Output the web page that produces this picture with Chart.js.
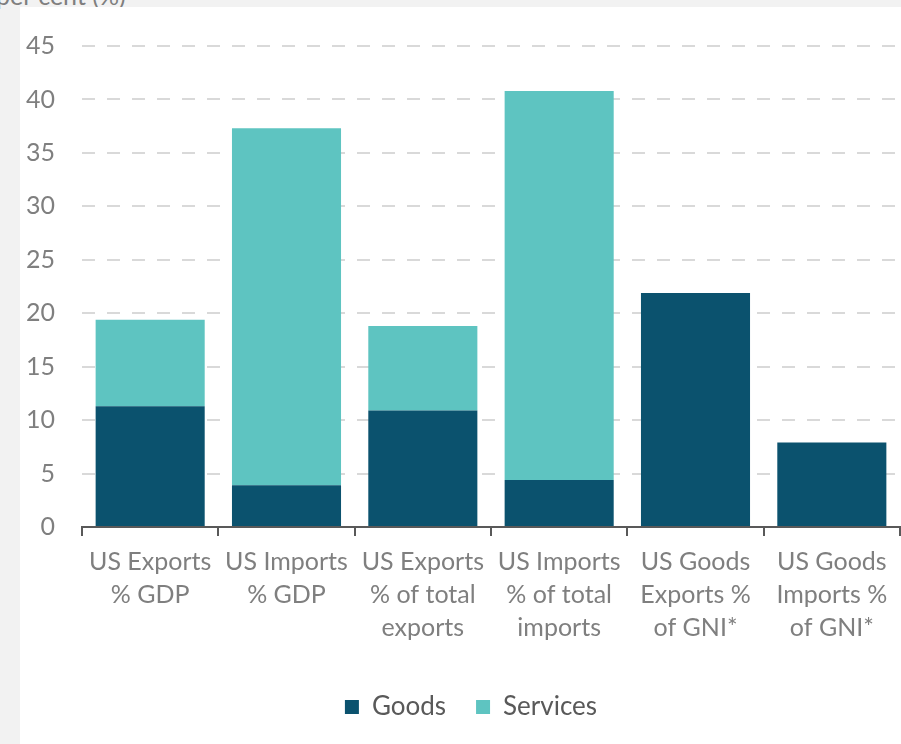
<!DOCTYPE html>
<html>
<head>
<meta charset="utf-8">
<script src="https://cdn.jsdelivr.net/npm/chart.js@4"></script>
<style>
    body { margin: 0; background: #f2f2f2; width: 901px; height: 744px; overflow: hidden; position: relative; font-family: Lato, sans-serif; }
    .unit { position: absolute; left: -4px; top: -20px; font-size: 25px; color: #7f7f7f; }
    .panel { position: absolute; left: 20px; top: 7px; width: 881px; height: 737px; background: #fff; }
</style>
</head>
<body>
<div class="unit">per cent (%)</div>
<div class="panel"><canvas id="chart1" width="881" height="737"></canvas></div>
<script>
// categories and values (per cent)
let categories = [
    ['US Exports', '% GDP'],
    ['US Imports', '% GDP'],
    ['US Exports', '% of total', 'exports'],
    ['US Imports', '% of total', 'imports'],
    ['US Goods', 'Exports %', 'of GNI*'],
    ['US Goods', 'Imports %', 'of GNI*']
];
let goods = [11.3, 3.9, 10.9, 4.4, 21.9, 7.9];
let services = [8.1, 33.4, 7.9, 36.4, 0, 0];
let yTicks = [0, 5, 10, 15, 20, 25, 30, 35, 40, 45];

let barColor = ['#0b526e', '#5ec4c1'];

// legend sits a bit right of centre in the original
const legendShift = {
    id: 'legendShift',
    afterLayout(chart) {
        chart.legend.left += 11;
        chart.legend.right += 11;
    }
};

const chart1 = document.getElementById('chart1').getContext('2d');

new Chart(chart1, {
    type: 'bar',
    data: {
        labels: categories,
        datasets: [
            {
                label: 'Goods',
                data: goods,
                backgroundColor: barColor[0],
                barPercentage: 0.8,
                categoryPercentage: 1.0
            },
            {
                label: 'Services',
                data: services,
                backgroundColor: barColor[1],
                barPercentage: 0.8,
                categoryPercentage: 1.0
            }
        ]
    },
    options: {
        responsive: false,
        animation: false,
        layout: {
            padding: { top: 39, right: 1, left: 0, bottom: 14 }
        },
        scales: {
            x: {
                stacked: true,
                offset: true,
                grid: {
                    offset: true,
                    drawOnChartArea: false,
                    drawTicks: true,
                    tickLength: 9,
                    color: '#595959',
                    lineWidth: 2
                },
                border: { color: '#595959', width: 2 },
                ticks: {
                    color: '#7f7f7f',
                    padding: 9,
                    maxRotation: 0,
                    autoSkip: false,
                    font: { family: 'Lato', size: 25, lineHeight: 1.32 }
                },
                afterFit: (scale) => { scale.height = 137; }
            },
            y: {
                stacked: true,
                min: 0,
                max: 45,
                afterBuildTicks: (scale) => { scale.ticks = yTicks.map(v => ({ value: v })); },
                grid: {
                    drawTicks: true,
                    tickLength: 24,
                    tickColor: 'rgba(0,0,0,0)',
                    color: '#d9d9d9',
                    lineWidth: 2
                },
                border: { display: false, dash: [13, 12] },
                ticks: {
                    color: '#7f7f7f',
                    padding: 3,
                    font: { family: 'Lato', size: 25 }
                },
                afterFit: (scale) => { scale.width = 62; }
            }
        },
        plugins: {
            legend: {
                display: true,
                position: 'bottom',
                labels: {
                    color: '#595959',
                    boxWidth: 14,
                    boxHeight: 14,
                    padding: 30,
                    font: { family: 'Lato', size: 26 }
                }
            },
            tooltip: { enabled: false }
        }
    },
    plugins: [legendShift]
});
</script>
</body>
</html>
